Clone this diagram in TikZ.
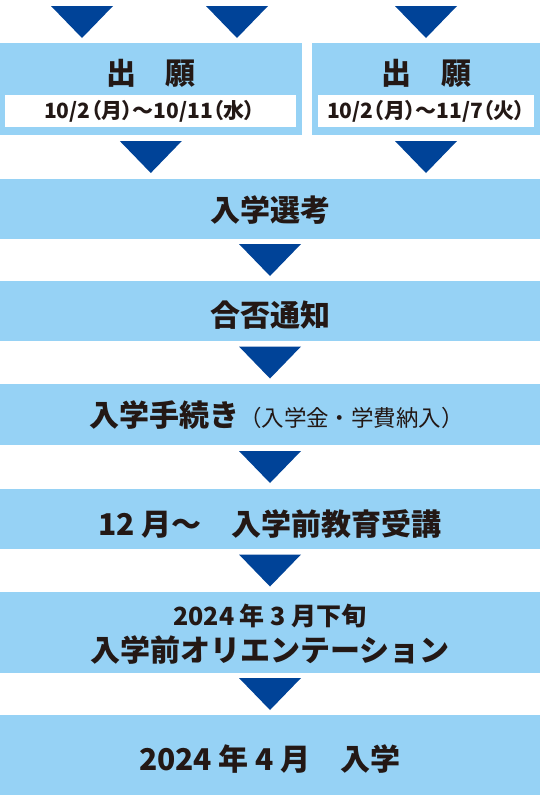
\documentclass[tikz,border=0pt]{standalone}
\usepackage{fontspec}
\newfontfamily\jp{Noto Sans CJK JP}
\newfontfamily\jpp{Noto Sans CJK JP}[RawFeature=+palt]
\usetikzlibrary{calc}
\definecolor{lightb}{RGB}{150,210,245}
\definecolor{darkb}{RGB}{0,67,152}
\definecolor{inkc}{RGB}{35,24,21}
\tikzset{
  box/.style={rectangle, fill=lightb, draw=none, inner sep=0pt, outer sep=0pt, anchor=north west},
  wbox/.style={rectangle, fill=white, draw=none, inner sep=0pt, outer sep=0pt, anchor=north west},
  lbl/.style={inner sep=0pt, outer sep=0pt, anchor=base, text=inkc, font=\jp\bfseries\fontsize{30}{34}\selectfont},
  datelbl/.style={lbl, font=\jpp\bfseries\fontsize{21}{24}\selectfont},
  sublbl/.style={lbl, font=\jp\bfseries\fontsize{25}{28}\selectfont},
  downtri/.pic={\fill[darkb] (-31,-16) -- (31,-16) -- (0,16) -- cycle;}
}
\begin{document}
\begin{tikzpicture}[x=1pt,y=-1pt]
\useasboundingbox (0,0) rectangle (540,807);
\fill[white] (0,0) rectangle (540,807);
% boxes
\node[box, minimum width=301.6pt, minimum height=92pt] (L) at (0,43) {};
\node[box, minimum width=228pt, minimum height=92pt] (R) at (312,43) {};
\node[wbox, minimum width=291pt, minimum height=32pt] (Lw) at (5,95) {};
\node[wbox, minimum width=216.5pt, minimum height=32pt] (Rw) at (317.5,95) {};
\node[box, minimum width=540pt, minimum height=60pt] (B1) at (0,179) {};
\node[box, minimum width=540pt, minimum height=60pt] (B2) at (0,281) {};
\node[box, minimum width=540pt, minimum height=61pt] (B3) at (0,384) {};
\node[box, minimum width=540pt, minimum height=60pt] (B4) at (0,489) {};
\node[box, minimum width=540pt, minimum height=81pt] (B5) at (0,592) {};
\node[box, minimum width=540pt, minimum height=80pt] (B6) at (0,715) {};
% texts
\node[lbl] (Lt) at (151,84) {出　願};
\node[lbl] (Rt) at (426,84) {出　願};
\node[datelbl] (Ld) at (149.5,118.5) {10/2（月）～10/11（水）};
\node[datelbl] (Rd) at (426,118.5) {10/2（月）～11/7（火）};
\node[lbl] (T1) at (270,221) {入学選考};
\node[lbl] (T2) at (270,326) {合否通知};
\node[lbl] (T3) at (276.5,426) {入学手続き{\mdseries\fontsize{22.5}{26}\selectfont（入学金・学費納入）}};
\node[lbl] (T4) at (270,535) {12 月～　入学前教育受講};
\node[sublbl] (T5a) at (270,625) {2024 年 3 月下旬};
\node[lbl] (T5b) at (270,661) {入学前オリエンテーション};
\node[lbl] (T6) at (270,770) {2024 年 4 月　入学};
% triangles
\pic at (82,22) {downtri};
\pic at (237,22) {downtri};
\pic at (426,22) {downtri};
\pic at ($(L.south)!0.5!(L.south |- B1.north)$) {downtri};
\pic at ($(R.south)!0.5!(R.south |- B1.north)$) {downtri};
\pic at ($(B1.south)!0.5!(B2.north)$) {downtri};
\pic at ($(B2.south)!0.5!(B3.north)$) {downtri};
\pic at ($(B3.south)!0.5!(B4.north)$) {downtri};
\pic at ($(B4.south)!0.5!(B5.north)$) {downtri};
\pic at ($(B5.south)!0.5!(B6.north)$) {downtri};
\end{tikzpicture}
\end{document}
